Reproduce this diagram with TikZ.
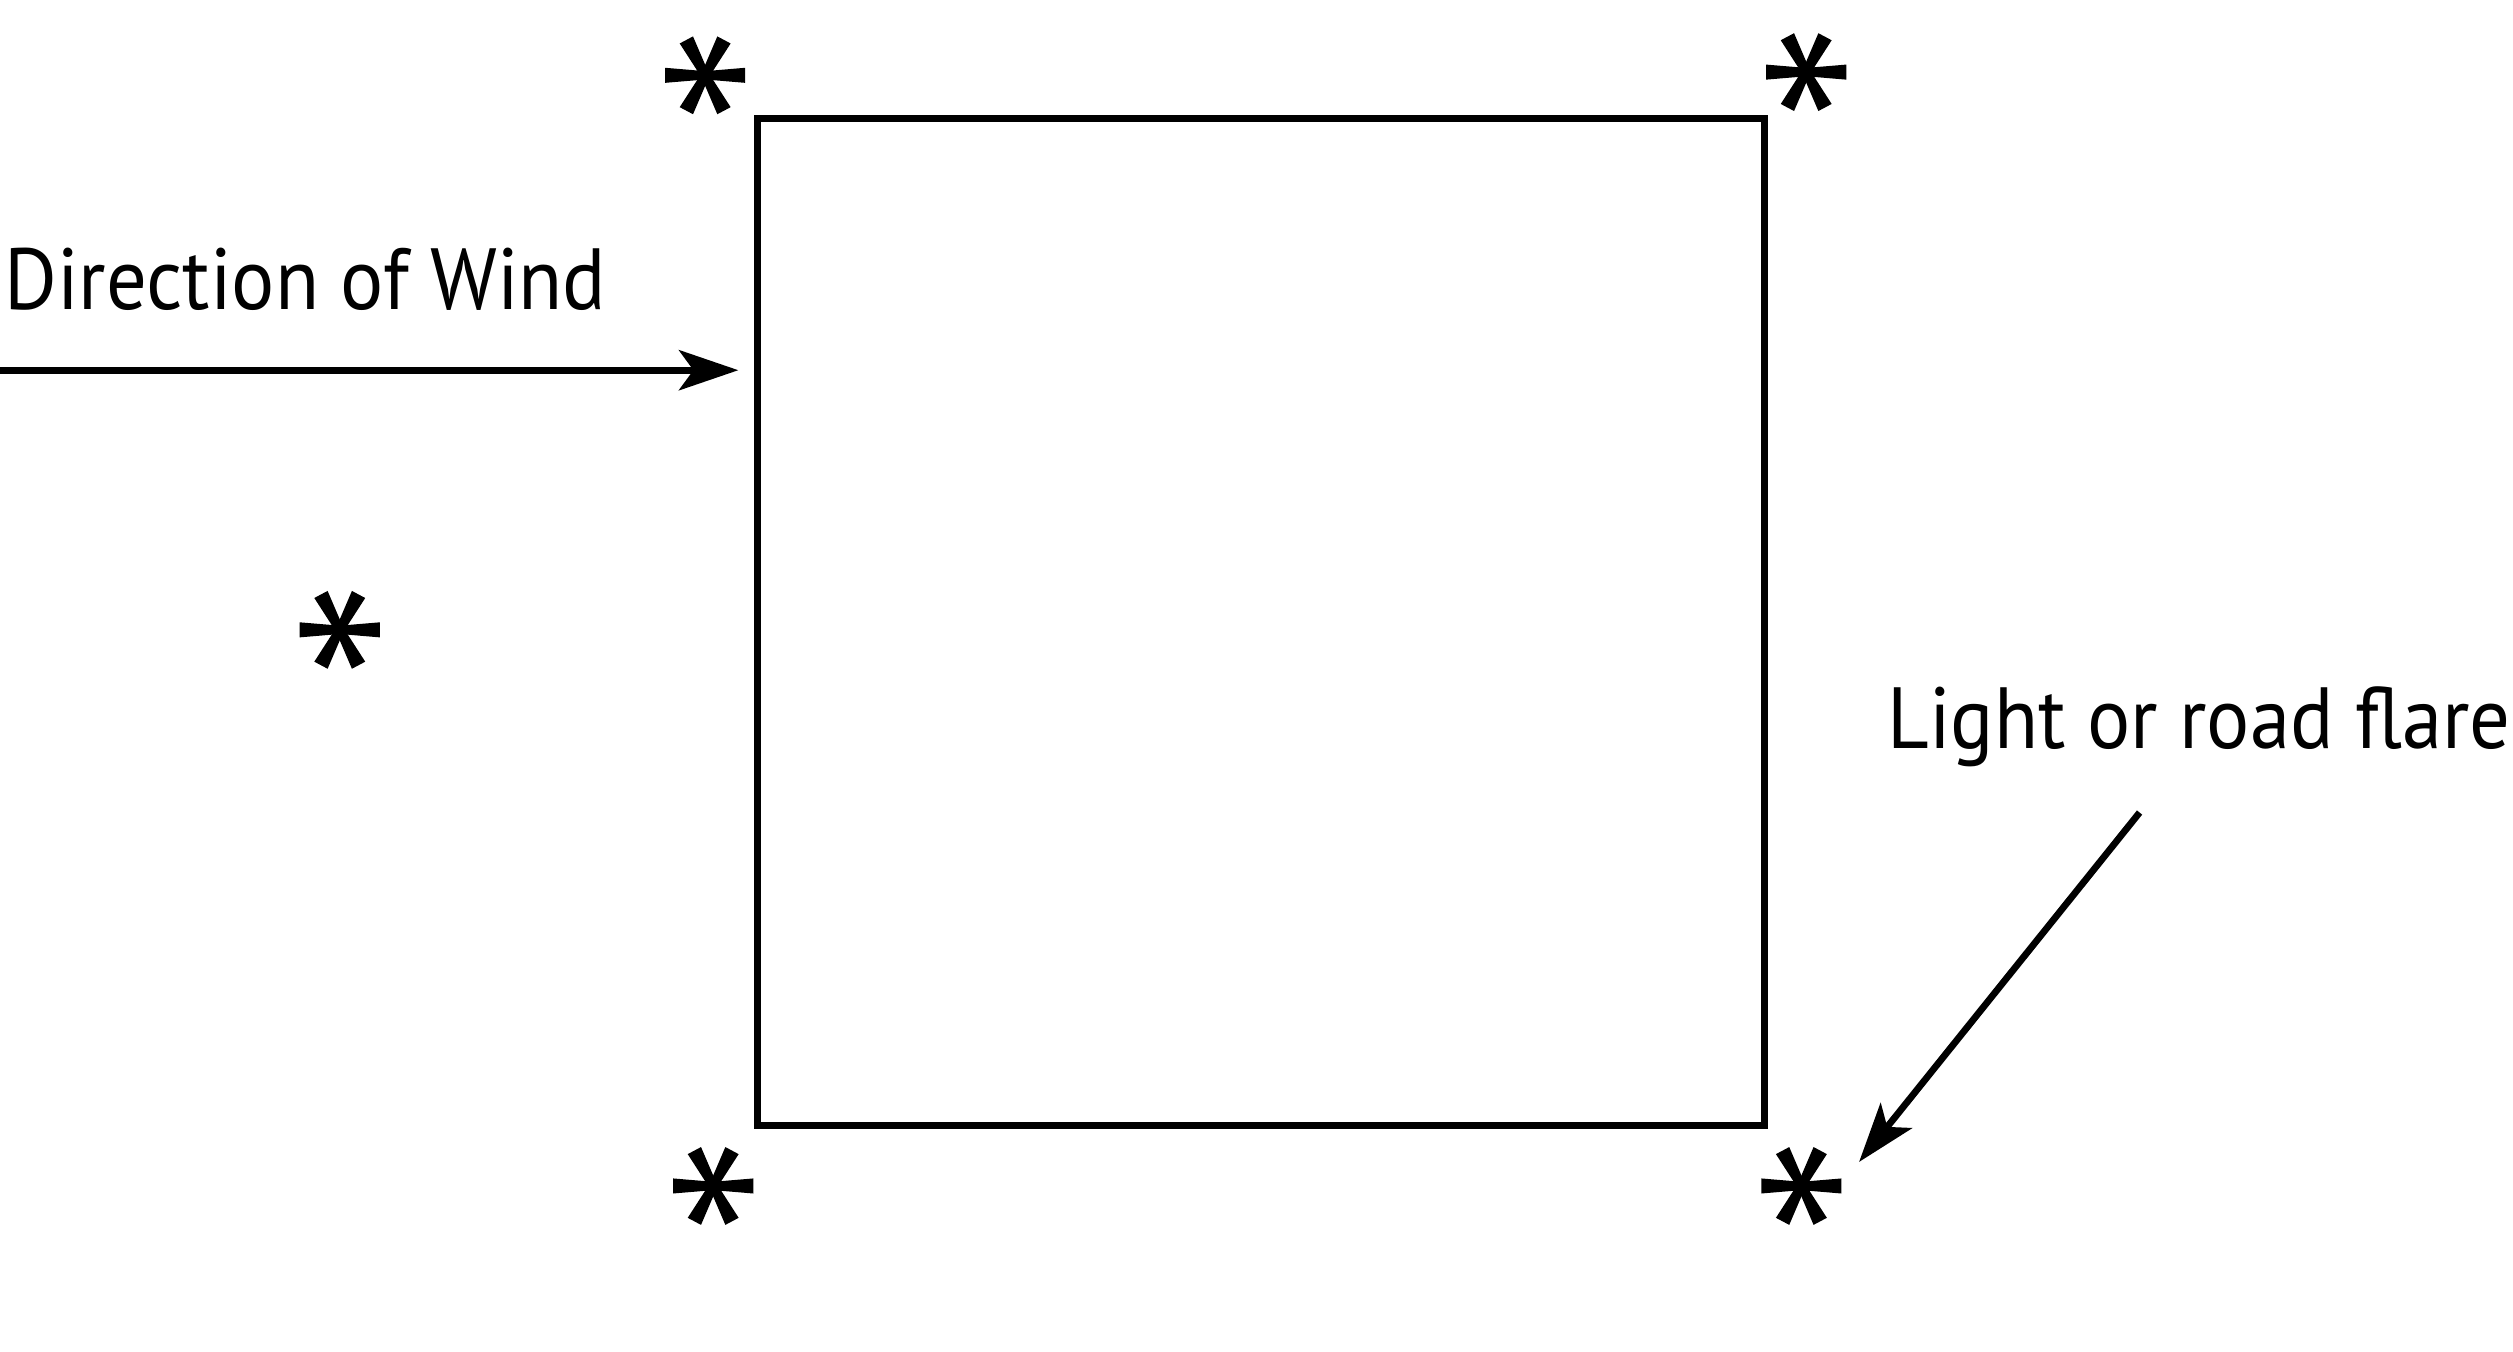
\documentclass[tikz,border=0pt]{standalone}
\usepackage{fontspec}
\setmainfont{PT Sans}[FakeStretch=0.93]
\usetikzlibrary{arrows.meta,positioning}

\begin{document}
\begin{tikzpicture}[x=0.01cm,y=-0.01cm]
	\tikzstyle{field}=[rectangle, draw=black, line width=1.2pt, minimum width=6.28cm, minimum height=6.28cm, inner sep=0pt]
	\tikzstyle{connect}=[line width=1.2pt, -{Stealth[length=3.7mm,width=2.5mm,inset=0.9mm]}]
	\tikzstyle{caption}=[inner sep=0pt, font=\fontsize{15.4}{18}\selectfont]
	\tikzset{flare/.pic={
		\foreach \a in {0,62,118,180,242,298}
			\fill[black, rotate=\a] (0,-2.6) -- (25,-4.7) -- (25,4.7) -- (0,2.6) -- cycle;
	}}
	\useasboundingbox (0,0) rectangle (1568,843);

	\node[field] (field) at (787,388) {};

	\coordinate (f1) at (440,47);
	\coordinate (f2) at (1127,45);
	\coordinate (f3) at (212,393);
	\coordinate (f4) at (445,740);
	\coordinate (f5) at (1124,740);
	\foreach \f in {f1,f2,f3,f4,f5}
		\pic at (\f) {flare};

	\node[caption, anchor=base west] (wind)  at (2,193)    {Direction of Wind};
	\node[caption, anchor=base west] (light) at (1177,467) {Light or road flare};

	\coordinate (windtail)  at (0,231);
	\coordinate (flaretail) at (1335,507);
	\coordinate (flaretip)  at (1160,725);

	\draw[connect] (windtail) -- ([xshift=-0.1cm]field.west |- windtail);
	\draw[connect] (flaretail) -- (flaretip);
\end{tikzpicture}
\end{document}
